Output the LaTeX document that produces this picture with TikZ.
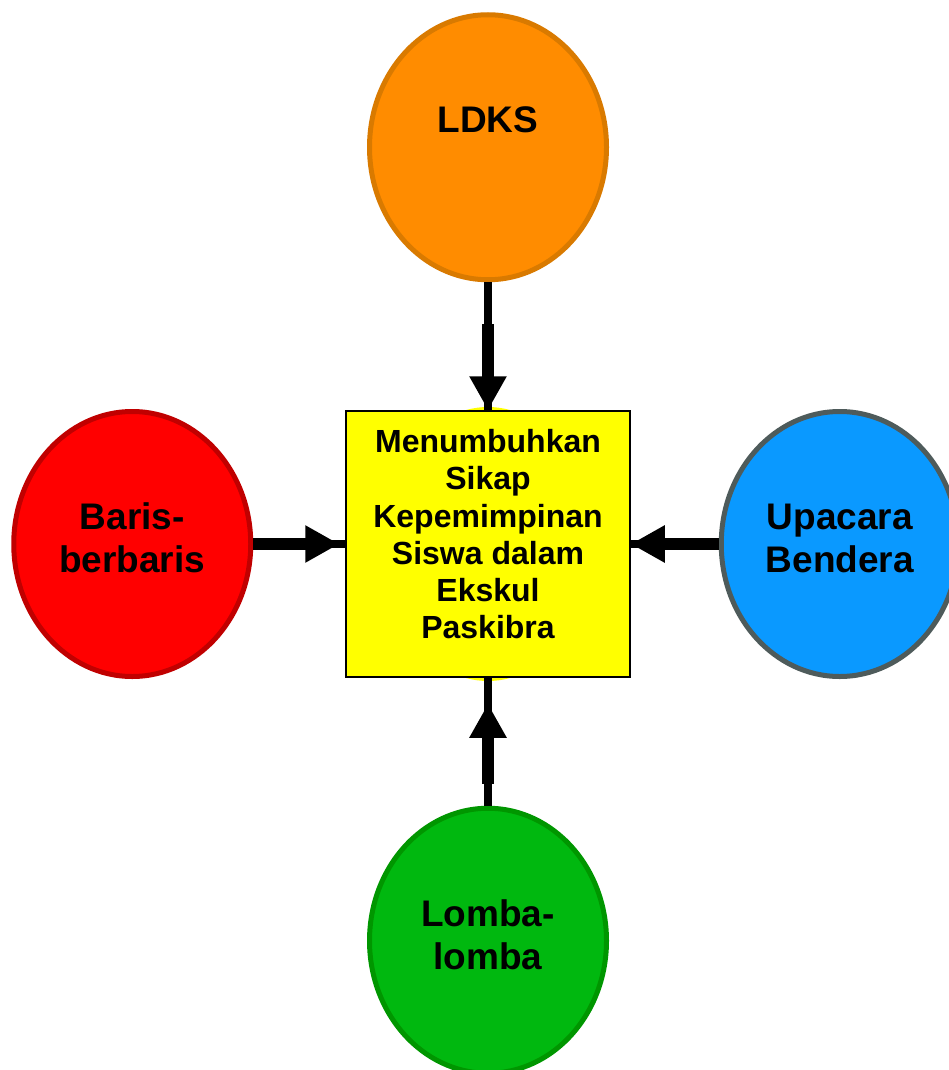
\documentclass[tikz,border=0pt]{standalone}
\usepackage{fontspec}
\setmainfont{Liberation Sans}
\usepackage{xcolor}
\usetikzlibrary{positioning,arrows.meta,shapes.geometric}
\definecolor{ldksfill}{HTML}{FF8C00}
\definecolor{ldksline}{HTML}{D97A00}
\definecolor{barisfill}{HTML}{FF0000}
\definecolor{barisline}{HTML}{C00000}
\definecolor{upacarafill}{HTML}{0A99FF}
\definecolor{upacaraline}{HTML}{4E5B5B}
\definecolor{lombafill}{HTML}{00B80F}
\definecolor{lombaline}{HTML}{009600}
\definecolor{goalyellow}{HTML}{FFFF00}

\begin{document}
\begin{tikzpicture}[
  x=0.5pt, y=-0.5pt,
  idea/.style={ellipse, line width=2.5pt, minimum width=118.5pt, minimum height=132.5pt, inner sep=0pt, align=center, font=\fontsize{18.5}{21.5}\selectfont\bfseries, text depth=6pt},
  goal/.style={draw=black, line width=0.75pt, fill=goalyellow, minimum width=142pt, minimum height=133pt, inner sep=0pt, align=center, font=\fontsize{16}{18.6}\selectfont\bfseries, text depth=10pt},
  arr/.style={line width=6pt, -{Triangle[length=17pt,width=17.5pt]}, preaction={draw, line width=3.6pt, -, shorten <=0pt, shorten >=0pt}}
]
  \useasboundingbox (0,0) rectangle (948,1070);

  % Centre box
  \node[ellipse, fill=goalyellow, minimum width=105pt, minimum height=137pt, inner sep=0pt] (halo) at (488,544) {};
  \node[goal] (goal) at (488,544) {Menumbuhkan\\Sikap\\Kepemimpinan\\Siswa dalam\\Ekskul\\Paskibra};

  % Activities
  \node[idea, draw=ldksline, fill=ldksfill, above=64pt of goal, text depth=28pt] (ldks) {LDKS};
  \node[idea, draw=barisline, fill=barisfill, left=46pt of goal] (baris) {Baris-\\berbaris};
  \node[idea, draw=upacaraline, fill=upacarafill, right=44pt of goal] (upacara) {Upacara\\Bendera};
  \node[idea, draw=lombaline, fill=lombafill, below=64pt of goal] (lomba) {Lomba-\\lomba};

  % Arrows
  \draw[arr, shorten <=21pt] (ldks) -- (goal);
  \draw[arr, shorten >=3pt] (baris) -- (goal);
  \draw[arr] (upacara) -- (goal);
  \draw[arr, shorten <=11pt, shorten >=13pt] (lomba) -- (goal);
\end{tikzpicture}
\end{document}
